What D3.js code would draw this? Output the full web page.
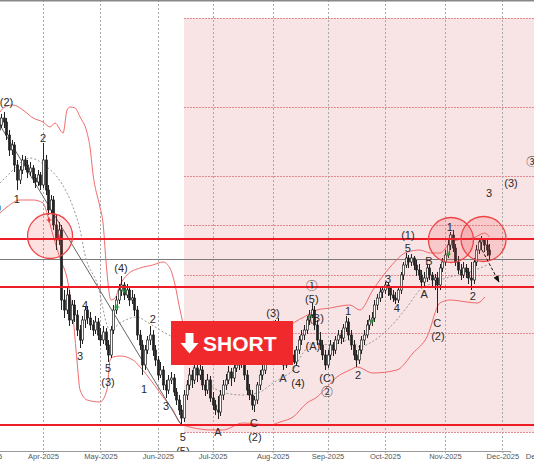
<!DOCTYPE html>
<html><head><meta charset="utf-8">
<script src="https://cdn.jsdelivr.net/npm/d3@7"></script>
<style>html,body{margin:0;padding:0;background:#fff;overflow:hidden}</style>
</head><body><svg id="c" width="534" height="462"></svg>
<script>
// ---------------- DATA ----------------
const firstBar = 4; // bar index of the first candle (index 0 = 3 Mar 2025)
const opens = [
37.0,37.5,38.2,37.8,36.5,35.0,35.5,33.5,32.0,33.0,
34.0,33.5,32.8,33.2,32.2,31.8,32.5,31.5,34.0,31.0,
29.0,30.0,27.5,26.0,27.0,20.0,19.0,20.5,18.0,19.5,
18.5,17.0,16.0,18.0,19.0,18.2,17.5,17.0,17.8,16.5,
16.0,16.8,15.5,14.5,17.0,19.0,20.0,21.0,21.5,20.5,
21.0,20.0,20.2,19.0,16.5,15.5,13.5,15.0,16.0,16.5,
15.0,14.0,12.5,13.0,11.5,11.0,12.0,12.2,10.8,10.0,
9.0,8.2,10.5,11.5,12.5,12.0,13.2,12.5,13.0,11.5,
11.0,12.0,10.2,9.5,9.0,8.8,10.5,11.5,12.0,12.8,
12.2,13.2,13.5,14.2,13.8,12.5,11.0,10.5,9.5,10.0,
11.5,12.5,13.0,14.0,14.5,15.5,17.0,17.8,16.0,14.5,
13.5,15.0,15.5,14.5,13.8,15.0,16.0,16.5,17.0,18.0,
18.5,19.0,17.5,16.0,15.5,14.5,13.5,14.5,15.5,15.0,
16.0,16.5,16.2,17.2,17.8,16.5,15.5,14.5,14.0,15.0,
16.0,16.5,17.5,18.0,18.2,19.5,20.2,20.8,21.0,21.5,
21.2,20.5,20.2,20.0,21.0,22.5,23.5,24.2,23.8,24.2,
23.5,23.0,22.5,21.8,22.2,23.2,22.5,22.0,22.2,21.5,
23.2,23.8,24.5,25.5,26.5,25.2,23.8,23.0,22.5,23.2,
22.8,22.2,22.0,23.8,25.0,25.8,26.0,25.5,25.0];
const highs = [
38.0,38.6,38.8,38.2,37.0,36.0,35.8,34.0,33.4,34.5,
34.4,34.0,33.8,33.5,32.6,33.0,32.8,35.7,34.5,31.5,
30.5,30.4,28.5,27.8,27.5,21.0,21.2,21.0,20.0,20.0,
19.0,17.5,18.4,19.3,19.4,18.8,18.0,18.4,18.2,17.2,
17.4,17.2,16.0,17.4,19.5,20.4,21.6,22.4,21.8,21.6,
21.4,21.0,20.6,19.4,17.0,16.0,15.5,16.4,17.4,17.0,
15.5,14.4,13.8,13.4,12.0,12.5,12.8,12.6,11.2,10.5,
9.5,11.0,12.0,13.2,13.0,13.8,13.6,13.5,13.4,12.0,
12.6,12.4,10.8,10.0,10.4,11.0,12.0,12.6,13.4,13.2,
13.8,14.2,14.8,14.5,14.2,13.0,11.6,11.0,10.4,11.8,
13.0,13.5,14.5,15.0,16.0,17.4,18.0,18.2,16.5,15.0,
15.5,16.0,15.8,15.0,15.4,16.4,17.0,17.5,18.4,19.0,
19.7,19.4,18.0,16.8,16.0,15.0,15.0,16.0,15.8,16.4,
17.0,17.0,17.6,18.4,18.2,17.0,16.0,15.0,15.5,16.4,
17.0,18.0,18.5,18.8,20.0,20.6,21.2,21.4,21.8,21.8,
21.4,21.0,20.8,21.4,22.8,23.8,24.7,24.5,24.6,24.4,
24.0,23.6,23.0,22.8,23.6,23.5,22.8,22.6,22.8,23.6,
24.2,25.0,26.0,26.8,27.0,25.6,24.4,23.6,23.8,23.6,
23.2,23.8,24.2,25.5,26.2,26.4,26.2,26.0,25.6];
const lows = [
36.5,37.2,37.2,36.0,34.4,34.5,32.8,31.0,31.6,32.6,
33.0,32.2,32.4,31.7,31.2,31.4,31.0,31.2,30.5,28.5,
28.6,27.0,25.0,25.5,19.0,18.2,18.6,17.4,17.6,17.8,
16.4,15.2,15.6,17.2,17.6,17.0,16.4,16.6,16.0,15.4,
15.6,15.0,13.8,14.2,16.6,18.6,19.6,20.4,20.0,20.2,
19.4,19.6,18.4,16.0,15.0,12.5,13.0,14.6,15.5,14.4,
13.4,12.0,12.2,11.0,10.2,10.6,11.6,10.4,9.5,8.5,
7.5,7.8,10.0,11.0,11.2,11.6,11.8,12.0,11.0,10.4,
10.6,9.8,9.0,8.5,8.1,8.4,10.0,11.0,11.6,11.4,
11.8,12.8,13.0,13.2,12.0,10.5,10.0,9.0,8.8,9.6,
11.0,12.0,12.6,13.6,14.2,15.0,16.6,15.5,14.0,13.0,
13.2,14.5,14.0,13.6,13.4,14.6,15.5,16.0,16.6,17.5,
18.2,17.0,15.5,15.0,14.0,13.0,13.2,14.0,14.4,14.6,
15.6,15.6,15.8,16.8,16.0,15.0,14.0,13.3,13.6,14.6,
15.5,16.2,17.0,17.4,17.8,19.0,19.8,20.2,20.6,20.4,
20.0,19.8,19.6,19.7,20.6,22.0,23.2,23.2,23.4,23.0,
22.4,22.0,21.2,21.4,21.8,22.0,21.4,21.0,18.7,21.0,
22.8,23.4,24.2,25.0,24.8,23.4,22.6,22.0,22.2,22.2,
21.6,21.0,21.6,23.4,24.6,25.0,24.8,24.4,24.0];
const closes = [
37.5,38.2,37.8,36.5,35.0,35.5,33.5,32.0,33.0,34.0,
33.5,32.8,33.2,32.2,31.8,32.5,31.5,34.0,31.0,29.0,
30.0,27.5,26.0,27.0,20.0,19.0,20.5,18.0,19.5,18.5,
17.0,16.0,18.0,19.0,18.2,17.5,17.0,17.8,16.5,16.0,
16.8,15.5,14.5,17.0,19.0,20.0,21.0,21.5,20.5,21.0,
20.0,20.2,19.0,16.5,15.5,13.5,15.0,16.0,16.5,15.0,
14.0,12.5,13.0,11.5,11.0,12.0,12.2,10.8,10.0,9.0,
8.2,10.5,11.5,12.5,12.0,13.2,12.5,13.0,11.5,11.0,
12.0,10.2,9.5,9.0,8.8,10.5,11.5,12.0,12.8,12.2,
13.2,13.5,14.2,13.8,12.5,11.0,10.5,9.5,10.0,11.5,
12.5,13.0,14.0,14.5,15.5,17.0,17.8,16.0,14.5,13.5,
15.0,15.5,14.5,13.8,15.0,16.0,16.5,17.0,18.0,18.5,
19.0,17.5,16.0,15.5,14.5,13.5,14.5,15.5,15.0,16.0,
16.5,16.2,17.2,17.8,16.5,15.5,14.5,14.0,15.0,16.0,
16.5,17.5,18.0,18.2,19.5,20.2,20.8,21.0,21.5,21.2,
20.5,20.2,20.0,21.0,22.5,23.5,24.2,23.8,24.2,23.5,
23.0,22.5,21.8,22.2,23.2,22.5,22.0,22.2,21.5,23.2,
23.8,24.5,25.5,26.5,25.2,23.8,23.0,22.5,23.2,22.8,
22.2,22.0,23.8,25.0,25.8,26.0,25.5,25.0,24.5];

const upperBand = [[4.5,38.8],[6.4,39.3],[9.5,39.5],[13.3,39.0],[17.2,38.2],[21,37.8],[23.7,37.3],[25.6,37.7],[28.7,36.7],[30.2,39.0],[31.3,39.3],[33.3,39.2],[35.2,38.3],[37.9,36.7],[39,35.3],[40.1,32.7],[42.8,29.3],[44,27.7],[45.1,24.0],[45.9,21.7],[47,20.0],[48.6,20.2],[50.5,21.5],[53.2,22.5],[58.2,23.2],[63.1,23.5],[67,23.8],[69.6,23.2],[71.6,21.5],[73.5,19.0],[75.4,17.0],[78,16.0],[85,15.5],[92.6,15.5],[100.3,15.8],[108,16.5],[113.7,17.0],[117.5,17.8],[121,18.3],[126,19.0],[131,19.2],[138.6,19.5],[142.4,19.0],[147.4,21.0],[154,23.3],[160.5,24.8],[165.4,25.0],[169.3,24.7],[173.1,24.7],[176.9,25.7],[179.6,26.0],[185.8,26.2],[190.3,26.7],[192,26.3]];
const middleBand = [[4.5,31.7],[8.4,32.7],[12.2,33.7],[16,34.2],[18.7,34.0],[22.5,33.3],[26.4,32.3],[30.2,30.7],[32.5,29.3],[35.2,27.0],[37.1,24.5],[41.7,21.7],[46.7,17.0],[50.5,17.7],[57,18.3],[60.8,17.8],[65.8,17.0],[73.5,15.5],[77.3,13.8],[85,11.5],[90.7,10.7],[97.6,10.5],[104.1,10.8],[109.1,11.7],[113,12.3],[116.8,13.0],[120.6,14.7],[124.4,15.7],[131,15.5],[138.6,16.0],[142.4,15.3],[146.3,15.7],[154,17.3],[160.5,19.3],[165.4,21.0],[170.4,21.7],[176.9,22.3],[183.4,22.7],[191.1,23.5]];
const lowerBand = [[4.5,28.7],[7.2,29.3],[12.2,30.0],[17.2,30.0],[21,29.7],[22.5,28.7],[24.8,26.5],[27.5,24.2],[30.6,21.7],[32.5,18.3],[34,14.0],[35.2,11.0],[37.9,10.0],[42.8,9.8],[45.5,11.0],[46.7,14.0],[47.8,14.3],[50.5,14.4],[55.5,14.0],[58.2,13.3],[63.1,11.7],[67,10.3],[70.8,9.0],[73.5,7.7],[77.3,7.3],[86.1,7.0],[89.9,7.0],[97.6,7.7],[108,7.5],[111.8,7.8],[116.8,8.3],[122.1,9.7],[126,10.3],[129.8,11.3],[133.6,12.3],[138.6,13.0],[141.3,13.3],[147.4,12.7],[156.6,13.0],[162.8,14.7],[168.1,16.3],[173.1,19.7],[176.9,20.0],[183.4,19.8],[187.3,19.7],[190.3,20.3]];

const trendLine = [[4,37.7],[74,7.5]];
const resistanceLevels = [26.1, 21.3, 7.5];
const pivotLevel = 24.1;
const zoneLevels = [48.2, 39.3, 32.4, 27.5, 22.5, 16.7, 6.8];
const zoneStart = 75;

const monthTicks = [-1, 21, 43, 65, 86, 109, 130, 152, 175, 197, 212];
const monthLabels = ["Mar-2025","Apr-2025","May-2025","Jun-2025","Jul-2025","Aug-2025","Sep-2025","Oct-2025","Nov-2025","Dec-2025","Dec-2025"];

const waveLabels = [
 [7.0,39.8,"(2)"],[2.4,29.3,"(1)"],[11,30.1,"1"],[21,36.2,"2"],[35.2,14.4,"3"],[37.1,19.5,"4"],
 [45.9,13.2,"5"],[45.9,11.8,"(3)"],[50.9,23.2,"(4)"],[59.7,11.1,"1"],[63.1,18.1,"2"],[68.1,9.4,"3"],
 [74.6,6.3,"5"],[74.6,4.9,"(5)"],[88,6.8,"A"],[101.8,7.7,"C"],[102.2,6.3,"(2)"],[109.1,18.7,"(3)"],
 [112.9,12.2,"A"],[117.9,13.1,"C"],[118.7,11.7,"(4)"],[124,21.5,"①"],[124,20.1,"(5)"],[125.8,18.2,"(B)"],
 [124.4,15.4,"(A)"],[129.8,12.2,"(C)"],[129.8,10.9,"②"],[137.9,18.9,"1"],[141.7,12.5,"2"],
 [153.2,22.1,"3"],[156.6,19.2,"4"],[160.8,25.2,"5"],[160.8,26.5,"(1)"],[167,20.6,"A"],[168.9,23.9,"B"],
 [172,17.7,"C"],[172.3,16.4,"(2)"],[176.9,27.3,"1"],[185.7,20.4,"2"],[191.9,30.7,"3"],
 [200.3,31.7,"(3)"],[208.4,33.9,"③"]
];
const circles = [[23.7,26.4],[177.3,26.0],[189.8,26.1]];
const projection = [[189.2,25.0],[195.7,21.8]];
const greenMarks = [[49.3,19.3],[52,20.9],[123.3,18.3],[147,17.9],[176.2,24.6]];
const redMarks = [[23.3,28.0],[27.1,26.3]];
const signalText = "SHORT";

// ---------------- DRAW ----------------
const W = 534, H = 462, axisY = 451;
const svg = d3.select("#c");
const x = d3.scaleLinear().domain([0, 200]).range([-11.8, 510.2]);
const y = d3.scaleLinear().domain([0, 50]).range([500, 0]);

svg.append("defs").append("clipPath").attr("id","clip")
  .append("rect").attr("x",0).attr("y",0).attr("width",W).attr("height",axisY);
svg.select("defs").append("marker").attr("id","ah").attr("viewBox","0 0 10 10")
  .attr("refX",9).attr("refY",5).attr("markerWidth",7).attr("markerHeight",7).attr("orient","auto")
  .append("path").attr("d","M0,1 L10,5 L0,9 Z").attr("fill","#111");

svg.append("rect").attr("width",W).attr("height",H).attr("fill","#fff");
const g = svg.append("g").attr("clip-path","url(#clip)");

// pink zone
g.append("rect").attr("x",x(zoneStart)).attr("y",y(d3.max(zoneLevels)))
  .attr("width",W - x(zoneStart)).attr("height",y(d3.min(zoneLevels)) - y(d3.max(zoneLevels)))
  .attr("fill","#f8e3e5");

// vertical grid
g.selectAll("line.vg").data(monthTicks).join("line").attr("class","vg")
  .attr("x1",d=>Math.round(x(d))+0.5).attr("x2",d=>Math.round(x(d))+0.5)
  .attr("y1",0).attr("y2",axisY).attr("stroke","#a9a9a9").attr("stroke-dasharray","2,2");

// zone dashed levels
g.selectAll("line.zl").data(zoneLevels).join("line").attr("class","zl")
  .attr("x1",x(zoneStart)).attr("x2",W).attr("y1",d=>Math.round(y(d))+0.5).attr("y2",d=>Math.round(y(d))+0.5)
  .attr("stroke","#e08a90").attr("stroke-dasharray","2,1");

// pivot gray line
g.append("line").attr("x1",0).attr("x2",W).attr("y1",Math.round(y(pivotLevel))+0.5).attr("y2",Math.round(y(pivotLevel))+0.5)
  .attr("stroke","#7a7a7a").attr("stroke-width",1);

const line = d3.line().x(d=>x(d[0])).y(d=>y(d[1])).curve(d3.curveMonotoneX);
g.append("path").attr("d",line(upperBand)).attr("fill","none").attr("stroke","#f06a6a").attr("stroke-width",1);
g.append("path").attr("d",line(lowerBand)).attr("fill","none").attr("stroke","#f06a6a").attr("stroke-width",1);
g.append("path").attr("d",line(middleBand)).attr("fill","none").attr("stroke","#999").attr("stroke-width",1).attr("stroke-dasharray","2,2");

// trend line
g.append("path").attr("d",d3.line().x(d=>x(d[0])).y(d=>y(d[1]))(trendLine))
  .attr("fill","none").attr("stroke","#666").attr("stroke-width",1);

// candles
const bars = opens.map((o,k)=>({i:firstBar+k,o,h:highs[k],l:lows[k],c:closes[k]}));
const cg = g.append("g");
cg.selectAll("line").data(bars).join("line")
  .attr("x1",d=>Math.round(x(d.i))+0.5).attr("x2",d=>Math.round(x(d.i))+0.5)
  .attr("y1",d=>y(d.h)).attr("y2",d=>y(d.l)).attr("stroke","#222").attr("stroke-width",1);
cg.selectAll("rect").data(bars).join("rect")
  .attr("x",d=>Math.round(x(d.i))-0.5).attr("width",2)
  .attr("y",d=>y(Math.max(d.o,d.c))).attr("height",d=>Math.max(1,Math.abs(y(d.o)-y(d.c))))
  .attr("fill",d=>d.c>d.o?"#fff":"#222").attr("stroke","#222").attr("stroke-width",0.7);

// resistance lines
g.selectAll("line.rl").data(resistanceLevels).join("line").attr("class","rl")
  .attr("x1",0).attr("x2",W).attr("y1",d=>y(d)).attr("y2",d=>y(d))
  .attr("stroke","#ee1c25").attr("stroke-width",2);

// circles
g.selectAll("circle.zc").data(circles).join("circle").attr("class","zc")
  .attr("cx",d=>x(d[0])).attr("cy",d=>y(d[1])).attr("r",22.5)
  .attr("fill","rgba(240,70,70,0.16)").attr("stroke","#f04444").attr("stroke-width",1.3);

// marks
const mark = (data,col)=>{
  g.selectAll(null).data(data).join("path")
   .attr("d",d=>{const cx=x(d[0]),cy=y(d[1]);return `M${cx-2.5},${cy}H${cx+2.5}M${cx},${cy-2.5}V${cy+2.5}`;})
   .attr("stroke",col).attr("stroke-width",1.2);
};
mark(greenMarks,"#1e9e2e"); mark(redMarks,"#e02020");

// wave labels
const circled = s => /[\u2460-\u2473]/.test(s);
g.selectAll("text.wl").data(waveLabels).join("text").attr("class","wl")
  .attr("x",d=>x(d[0])).attr("y",d=>y(d[1])).attr("text-anchor","middle").attr("dominant-baseline","central")
  .attr("font-family",d=>circled(d[2])?"'Noto Sans CJK JP', 'DejaVu Sans', sans-serif":"'Liberation Sans', Arial, 'DejaVu Sans', sans-serif")
  .attr("font-size",d=>circled(d[2])?11.5:11).attr("fill","#2a2a2a")
  .text(d=>d[2]);

// projection arrow
g.append("line").attr("x1",x(projection[0][0])).attr("y1",y(projection[0][1]))
  .attr("x2",x(projection[1][0])).attr("y2",y(projection[1][1]))
  .attr("stroke","#111").attr("stroke-width",1).attr("stroke-dasharray","3,2").attr("marker-end","url(#ah)");

// SHORT badge
const sb = svg.append("g");
sb.append("rect").attr("x",171).attr("y",321).attr("width",122).attr("height",44).attr("fill","#f02a2c");
sb.append("path").attr("d","M185.5,333 H193.5 V343 H198.5 L189.5,353.5 L180.5,343 H185.5 Z").attr("fill","#fff");
sb.append("text").attr("x",203).attr("y",350.5).attr("font-family","'Liberation Sans', Arial, sans-serif")
  .attr("font-weight","bold").attr("font-size",21).attr("fill","#fff").text(signalText);

// axis strip
svg.append("rect").attr("x",0).attr("y",axisY).attr("width",W).attr("height",H-axisY).attr("fill","#fff");
const ax = svg.append("g").attr("transform",`translate(0,${axisY})`)
  .call(d3.axisBottom(x).tickValues(monthTicks).tickFormat((d,i)=>monthLabels[i]).tickSize(2).tickPadding(1));
ax.select(".domain").attr("stroke","#999");
ax.selectAll(".tick line").attr("stroke","#999");
ax.selectAll("text").attr("font-family","'Liberation Sans', Arial, sans-serif").attr("font-size",7.5).attr("fill","#555");

// top border
svg.append("rect").attr("x",0).attr("y",0).attr("width",W).attr("height",1.5).attr("fill","#888");
</script></body></html>
